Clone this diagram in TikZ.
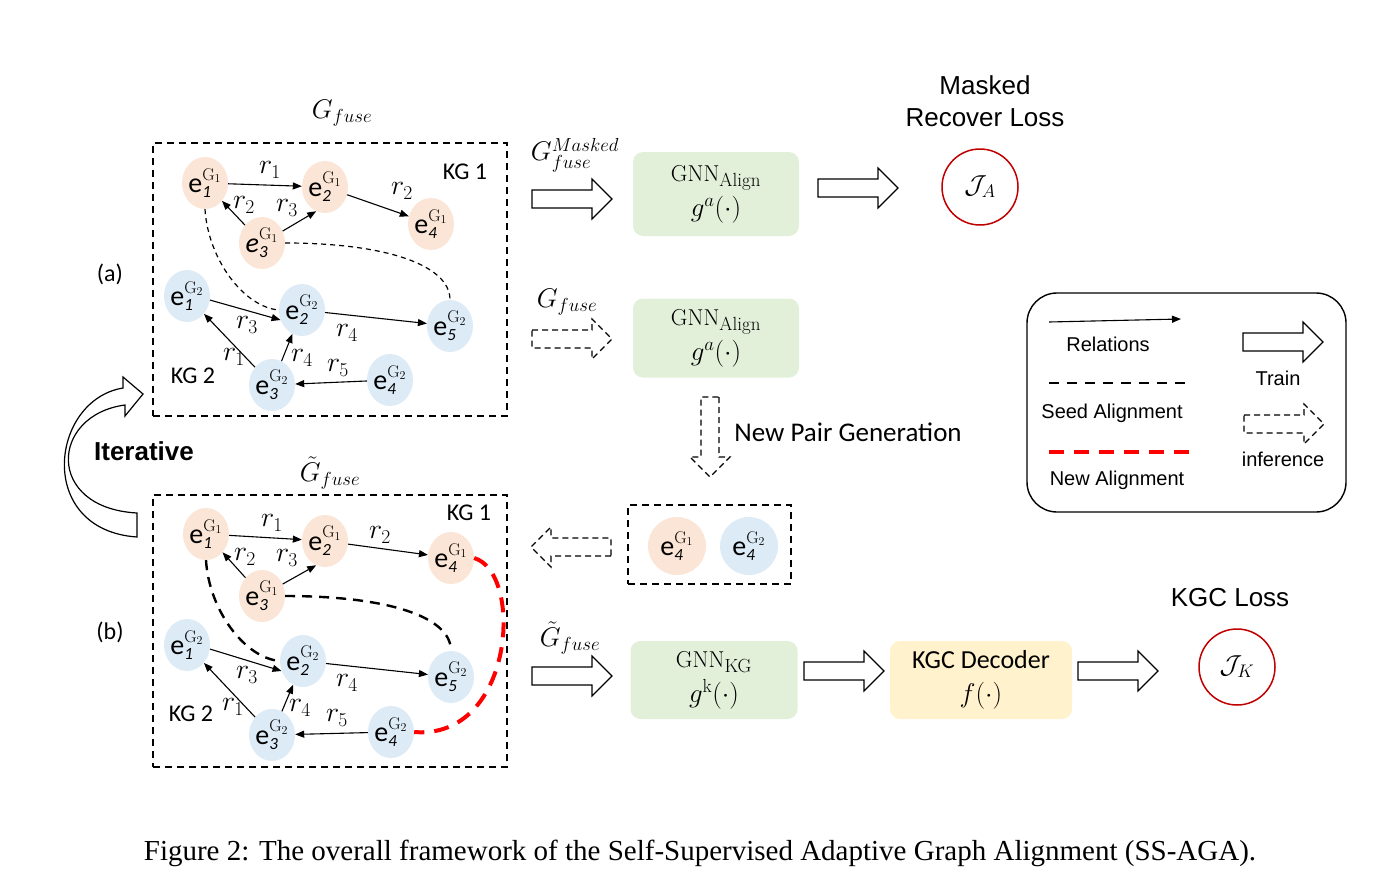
\RequirePackage{fix-cm}
\documentclass[tikz,border=0pt]{standalone}
\usepackage{amsmath}
\usepackage[no-math]{fontspec}
\setmainfont{Liberation Sans}
\newfontfamily\carl{Carlito}
\newfontfamily\lmr{Latin Modern Roman}
\newfontfamily\tms{Liberation Serif}
\usetikzlibrary{shapes.geometric,arrows.meta,calc}
\definecolor{peach}{HTML}{FBE5D6}
\definecolor{lblue}{HTML}{DDEBF7}
\definecolor{lgreen}{HTML}{E2F0D9}
\definecolor{lyellow}{HTML}{FFF2CC}
\definecolor{dred}{HTML}{C00000}
\newcommand\fsz[1]{\fontsize{#1}{#1}\selectfont}
\newcommand\ent[3]{\makebox[0pt]{\carl\fsz{28}#1$^{\text{\lmr\fsz{17}G}_{\text{\fsz{12}\lmr #3}}}_{\text{\fsz{17}\itshape #2}}$}}
\tikzset{
  eone/.style={ellipse, fill=peach, minimum width=46, minimum height=52, inner sep=0},
  etwo/.style={ellipse, fill=lblue, minimum width=46, minimum height=52, inner sep=0},
  rel/.style={-{Triangle[length=9pt,width=7pt]}, line width=1.1},
  rlab/.style={inner sep=0, font=\fsz{28}},
  frame/.style={draw, dash pattern=on 7 off 5, line width=1.4, inner sep=0},
  seedthin/.style={draw, dash pattern=on 5 off 4, line width=1.2},
  seedthick/.style={draw, dash pattern=on 10 off 7, line width=2.4},
  newal/.style={draw=red, line width=4, dash pattern=on 15 off 10},
  modbox/.style={rounded corners=10, align=center, inner sep=0, font=\lmr\fontsize{23}{35}\selectfont},
  loss/.style={circle, draw=dred, line width=1.5, minimum size=76, inner sep=0, font=\fsz{26}},
  sans/.style={font=\fsz{#1}, inner sep=0},
  fat/.pic={\path[draw, fill=white, line width=1.2, pic actions] (0,-9) -- (60,-9) -- (60,-20) -- (80,0) -- (60,20) -- (60,9) -- (0,9) -- cycle;},
  inf/.style={dash pattern=on 6 off 4}
}
\begin{document}
\begin{tikzpicture}[x=1pt,y=-1pt]
\useasboundingbox (0,0) rectangle (1397,878);

% ---------- frames
\node[frame, minimum width=354, minimum height=273] (fa) at (330,279.5) {};
\node[frame, minimum width=354, minimum height=272] (fb) at (330,631) {};
\node[sans=27] (ga) at (342,113) {$G_{fuse}$};
\node[sans=27] (gb) at (330,473) {$\tilde{G}_{fuse}$};
\node[sans=24, font=\carl\fsz{24}] (kga1) at (465,172) {KG 1};
\node[sans=24, font=\carl\fsz{24}] (kga2) at (193,376) {KG 2};
\node[sans=24, font=\carl\fsz{24}] (kgb1) at (469,513) {KG 1};
\node[sans=24, font=\carl\fsz{24}] (kgb2) at (191,714) {KG 2};
\node[sans=24, font=\carl\fsz{24}] (la) at (110,274) {(a)};
\node[sans=24, font=\carl\fsz{24}] (lb) at (110,632) {(b)};

% ---------- graph (a)
\node[eone] (a1) at (205,183) {\ent{e}{1}{1}};
\node[eone] (a2) at (325,187) {\ent{e}{2}{1}};
\node[eone] (a3) at (262,243) {\ent{\textit{e}}{3}{1}};
\node[eone] (a4) at (431,224) {\ent{e}{4}{1}};
\node[etwo] (b1) at (187,296) {\ent{e}{1}{2}};
\node[etwo] (b2) at (302,310) {\ent{e}{2}{2}};
\node[etwo] (b5) at (450,326) {\ent{e}{5}{2}};
\node[etwo] (b3) at (272,385) {\ent{e}{3}{2}};
\node[etwo] (b4) at (390,380) {\ent{e}{4}{2}};
\draw[seedthin] (a1.south) .. controls +(3,50) and +(-35,-3) .. (b2.west);
\draw[seedthin] (a3.east) .. controls +(100,0) and +(0,-35) .. (b5.north);
\draw[rel] (a1) -- (a2);
\draw[rel] (a3) -- (a1);
\draw[rel] (a3.30) -- (a2.250);
\draw[rel] (a2) -- (a4);
\draw[rel] (b1.350) -- (b2.205);
\draw[rel] (b2) -- (b5);
\draw[rel] (b3) -- (b1);
\draw[rel] (b3) -- (b2);
\draw[rel] (b4) -- (b3);
\node[rlab] (ra1) at (270,170) {$r_1$};
\node[rlab] (ra2) at (244,205) {$r_2$};
\node[rlab] (ra3) at (287,208) {$r_3$};
\node[rlab] (ra4) at (402,191) {$r_2$};
\node[rlab] (rb1) at (247,325) {$r_3$};
\node[rlab] (rb2) at (347,333) {$r_4$};
\node[rlab] (rb3) at (234,357) {$r_1$};
\node[rlab] (rb4) at (302,358) {$r_4$};
\node[rlab] (rb5) at (338,368) {$r_5$};

% ---------- graph (b)
\node[eone] (c1) at (206,534) {\ent{e}{1}{1}};
\node[eone] (c2) at (325,541) {\ent{e}{2}{1}};
\node[eone] (c3) at (262,596) {\ent{e}{3}{1}};
\node[eone] (c4) at (451,558) {\ent{e}{4}{1}};
\node[etwo] (d1) at (187,645) {\ent{e}{1}{2}};
\node[etwo] (d2) at (303,661) {\ent{e}{2}{2}};
\node[etwo] (d5) at (451,677) {\ent{e}{5}{2}};
\node[etwo] (d3) at (272,735) {\ent{e}{3}{2}};
\node[etwo] (d4) at (391,732) {\ent{e}{4}{2}};
\draw[seedthick] (c1.south) .. controls +(3,50) and +(-35,-3) .. (d2.west);
\draw[seedthick] (c3.east) .. controls +(100,0) and +(0,-35) .. (d5.north);
\draw[newal] (c4.east) .. controls +(50,15) and +(100,8) .. (d4.east);
\draw[rel] (c1) -- (c2);
\draw[rel] (c3) -- (c1);
\draw[rel] (c3.30) -- (c2.250);
\draw[rel] (c2) -- (c4);
\draw[rel] (d1.350) -- (d2.205);
\draw[rel] (d2) -- (d5);
\draw[rel] (d3) -- (d1);
\draw[rel] (d3) -- (d2);
\draw[rel] (d4) -- (d3);
\node[rlab] (rc1) at (272,523) {$r_1$};
\node[rlab] (rc2) at (245,557) {$r_2$};
\node[rlab] (rc3) at (287,558) {$r_3$};
\node[rlab] (rc4) at (380,535) {$r_2$};
\node[rlab] (rd1) at (247,675) {$r_3$};
\node[rlab] (rd2) at (347,683) {$r_4$};
\node[rlab] (rd3) at (233,707) {$r_1$};
\node[rlab] (rd4) at (300,708) {$r_4$};
\node[rlab] (rd5) at (337,718) {$r_5$};

% ---------- iterative arrow
\draw[fill=white, line width=1.2] (123,388) .. controls (50,400) and (35,530) .. (137,537)
  -- (137,513) .. controls (45,508) and (50,415) .. (125,405) -- (125,416) -- (143,394) -- (123,377) -- cycle;
\node[font=\bfseries\fsz{26}, inner sep=0] (it) at (144,451) {Iterative};

% ---------- right column
\node[sans=27] (gm) at (575,155) {$G_{fuse}^{Masked}$};
\pic at (532,199) {fat};
\node[modbox, fill=lgreen, minimum width=166, minimum height=84] (g1) at (716,194) {GNN$_{\text{\fsz{19}Align}}$\\{\fsz{27}$g^a(\cdot)$}};
\pic at (818,188) {fat};
\node[loss] (ja) at (980,187) {$\mathcal{J}_A$};
\node[font=\fsz{26}, align=center, inner sep=0] (mrl) at (985,101) {Masked\\[6pt]Recover Loss};

\node[sans=27] (gf2) at (567,302) {$G_{fuse}$};
\pic[inf] at (532,339) {fat};
\node[modbox, fill=lgreen, minimum width=166, minimum height=79] (g2) at (716,338) {GNN$_{\text{\fsz{19}Align}}$\\{\fsz{27}$g^a(\cdot)$}};
\pic[inf, rotate=-90] at (710,397) {fat};
\node[font=\carl\fsz{27}, inner sep=0] (npg) at (848,432) {New Pair Generation};

\node[frame, minimum width=163, minimum height=79] (pb) at (709.5,544.5) {};
\node[circle, fill=peach, minimum size=58, inner sep=0] (p1) at (677,546) {\ent{e}{4}{1}};
\node[circle, fill=lblue, minimum size=58, inner sep=0] (p2) at (749,546) {\ent{e}{4}{2}};
\pic[inf, rotate=180] at (611,547) {fat};

\node[sans=27] (gf3) at (570,638) {$\tilde{G}_{fuse}$};
\pic at (532,676) {fat};
\node[modbox, fill=lgreen, minimum width=167, minimum height=78] (g3) at (714,680) {GNN$_{\text{\fsz{19}KG}}$\\{\fsz{27}$g^{\text{k}}(\cdot)$}};
\pic at (804,671) {fat};
\node[modbox, fill=lyellow, minimum width=182, minimum height=78, font=\carl\fontsize{26}{34}\selectfont] (kd) at (981,680) {KGC Decoder\\{\lmr\fsz{27}$f(\cdot)$}};
\pic at (1078,671) {fat};
\node[loss] (jk) at (1237,667) {$\mathcal{J}_K$};
\node[font=\fsz{26}, inner sep=0] (kl) at (1230,598) {KGC Loss};

% ---------- legend
\node[draw, rounded corners=30, line width=1.4, minimum width=319, minimum height=219] (leg) at (1186.5,402.5) {};
\coordinate (r0) at (1049,322);
\coordinate (r1) at (1181,319);
\draw[rel] (r0) -- (r1);
\node[sans=20] (lr) at (1108,344) {Relations};
\coordinate (s0) at (1049,383);
\coordinate (s1) at (1187,383);
\draw[dash pattern=on 10 off 8, line width=2.5] (s0) -- (s1);
\node[sans=20] (ls) at (1112,413) {Seed Alignment};
\coordinate (n0) at (1049,452);
\coordinate (n1) at (1195,452);
\draw[newal] (n0) -- (n1);
\node[sans=20] (ln) at (1117,480) {New Alignment};
\pic at (1243,342) {fat};
\node[sans=20] (lt) at (1278,378) {Train};
\pic[inf] at (1244,424) {fat};
\node[sans=20] (li) at (1283,459) {inference};

% ---------- caption
\node[font=\tms\fsz{29}, inner sep=0] (cap) at (700,853) {Figure 2: The overall framework of the Self-Supervised Adaptive Graph Alignment (SS-AGA).};
\end{tikzpicture}
\end{document}
